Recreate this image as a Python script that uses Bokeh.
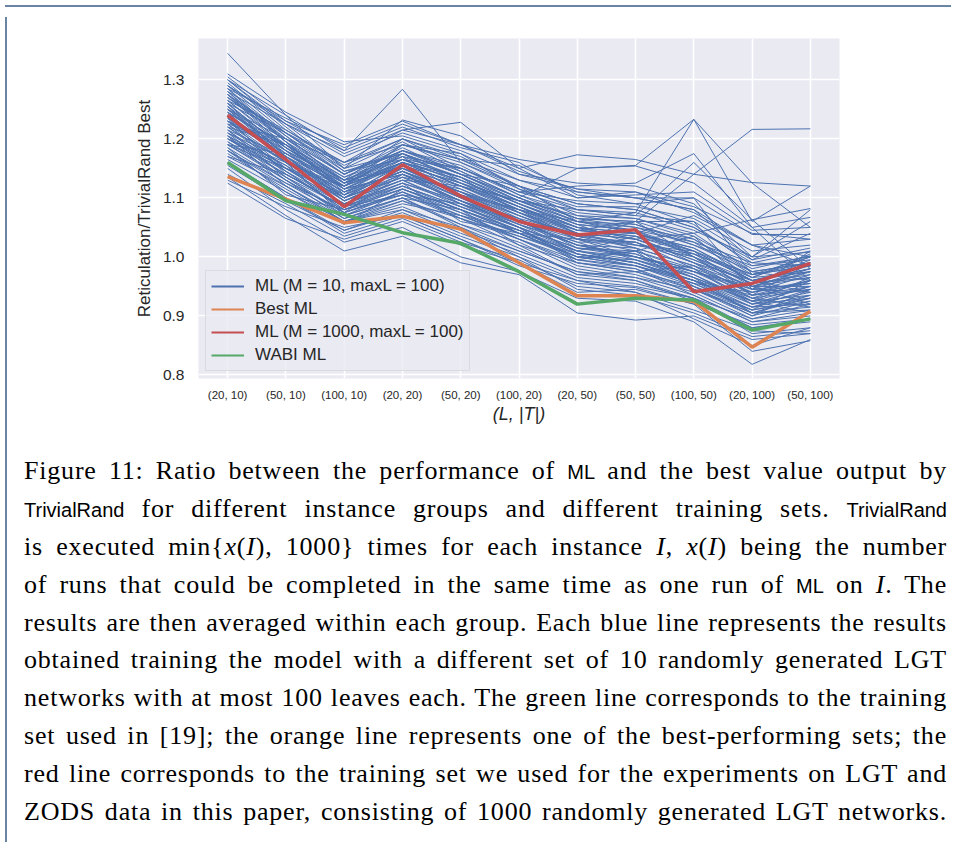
from bokeh.plotting import figure
from bokeh.models import FactorRange, Range1d, FixedTicker, ColumnDataSource, Div, Legend, LegendItem
from bokeh.layouts import column, row
from bokeh.embed import file_html
from bokeh.resources import INLINE

cats = ["(20, 10)", "(50, 10)", "(100, 10)", "(20, 20)", "(50, 20)", "(100, 20)",
        "(20, 50)", "(50, 50)", "(100, 50)", "(20, 100)", "(50, 100)"]

best_ml = [1.136, 1.098, 1.058, 1.069, 1.047, 0.990, 0.934, 0.934, 0.925, 0.847, 0.908]
ml_1000 = [1.240, 1.165, 1.085, 1.156, 1.103, 1.060, 1.037, 1.046, 0.941, 0.955, 0.989]
wabi_ml = [1.160, 1.095, 1.072, 1.041, 1.023, 0.975, 0.920, 0.930, 0.927, 0.876, 0.895]

y_ticks = [0.8, 0.9, 1.0, 1.1, 1.2, 1.3]

blue_runs = [
    [1.345, 1.240, 1.150, 1.175, 1.130, 1.090, 1.050, 1.040, 1.010, 0.960, 0.980],
    [1.310, 1.245, 1.195, 1.205, 1.175, 1.130, 1.110, 1.100, 1.080, 1.020, 1.000],
    [1.305, 1.230, 1.190, 1.230, 1.190, 1.150, 1.173, 1.165, 1.140, 1.126, 1.120],
    [1.300, 1.225, 1.180, 1.284, 1.160, 1.120, 1.090, 1.080, 1.050, 0.990, 1.010],
    [1.270, 1.200, 1.160, 1.215, 1.228, 1.150, 1.100, 1.110, 1.085, 1.040, 1.030],
    [1.230, 1.170, 1.120, 1.180, 1.140, 1.100, 1.150, 1.155, 1.233, 1.060, 1.120],
    [1.250, 1.190, 1.110, 1.160, 1.120, 1.080, 1.060, 1.075, 1.233, 1.125, 1.050],
    [1.200, 1.150, 1.100, 1.140, 1.090, 1.040, 1.030, 1.060, 1.140, 1.216, 1.217],
    [1.260, 1.180, 1.130, 1.170, 1.150, 1.110, 1.120, 1.125, 1.175, 1.050, 0.960],
    [1.125, 1.065, 1.030, 1.060, 1.020, 0.990, 0.960, 0.950, 0.930, 0.880, 0.890],
    [1.135, 1.070, 1.010, 1.035, 0.990, 0.970, 0.905, 0.893, 0.900, 0.860, 0.870],
    [1.150, 1.080, 1.025, 1.050, 1.000, 0.975, 0.930, 0.925, 0.890, 0.818, 0.860],
    [1.160, 1.100, 1.040, 1.070, 1.030, 0.990, 0.940, 0.945, 0.920, 0.840, 0.858],
    [1.180, 1.120, 1.060, 1.080, 1.050, 1.000, 0.960, 0.940, 0.895, 0.850, 0.880],
    [1.290, 1.210, 1.160, 1.200, 1.165, 1.120, 1.080, 1.070, 1.160, 1.063, 1.082],
    [1.285, 1.235, 1.185, 1.225, 1.190, 1.165, 1.150, 1.154, 1.125, 1.050, 1.067],
    [1.275, 1.210, 1.150, 1.232, 1.205, 1.140, 1.115, 1.100, 1.100, 1.038, 1.038],
    [1.170, 1.140, 1.090, 1.125, 1.060, 1.040, 1.000, 0.985, 0.960, 0.905, 0.935],
    [1.245, 1.160, 1.070, 1.100, 1.080, 1.020, 0.970, 0.975, 0.985, 0.930, 0.915],
    [1.285, 1.195, 1.115, 1.140, 1.095, 1.050, 0.995, 1.010, 0.945, 0.910, 0.960],
    [1.190, 1.175, 1.125, 1.160, 1.135, 1.075, 1.030, 1.000, 0.975, 0.950, 0.980],
    [1.230, 1.150, 1.105, 1.175, 1.125, 1.095, 1.055, 1.020, 1.010, 0.935, 0.950],
    [1.205, 1.120, 1.060, 1.090, 1.070, 1.045, 1.010, 1.035, 0.990, 0.960, 0.940],
    [1.265, 1.185, 1.130, 1.150, 1.110, 1.065, 1.040, 1.015, 0.950, 0.915, 0.945],
    [1.225, 1.200, 1.140, 1.185, 1.140, 1.100, 1.065, 1.050, 1.030, 0.975, 0.990],
    [1.180, 1.110, 1.055, 1.115, 1.075, 1.030, 0.985, 0.970, 0.940, 0.895, 0.920],
    [1.255, 1.170, 1.095, 1.130, 1.120, 1.085, 1.045, 1.060, 1.000, 0.945, 0.975],
    [1.300, 1.220, 1.145, 1.165, 1.150, 1.110, 1.080, 1.075, 1.045, 1.000, 1.008],
    [1.215, 1.135, 1.085, 1.105, 1.090, 1.060, 1.020, 1.005, 0.970, 0.925, 0.905],
    [1.240, 1.165, 1.110, 1.145, 1.100, 1.055, 1.025, 0.995, 0.965, 0.905, 0.930],
    [1.200, 1.145, 1.080, 1.120, 1.085, 1.050, 0.990, 0.980, 0.935, 0.890, 0.900],
    [1.275, 1.205, 1.125, 1.190, 1.160, 1.115, 1.070, 1.055, 1.020, 0.985, 0.995],
    [1.160, 1.100, 1.045, 1.080, 1.040, 1.005, 0.965, 0.955, 0.930, 0.870, 0.880],
    [1.235, 1.180, 1.100, 1.135, 1.115, 1.070, 1.035, 1.040, 1.015, 0.965, 1.000],
    [1.210, 1.155, 1.075, 1.110, 1.065, 1.035, 1.005, 0.990, 0.955, 0.940, 0.960],
    [1.290, 1.225, 1.150, 1.195, 1.145, 1.100, 1.060, 1.045, 1.025, 0.990, 0.985],
    [1.195, 1.130, 1.065, 1.095, 1.055, 1.025, 0.980, 0.965, 0.945, 0.900, 0.925],
    [1.250, 1.175, 1.120, 1.160, 1.130, 1.090, 1.050, 1.030, 0.995, 0.955, 0.970],
    [1.220, 1.190, 1.135, 1.170, 1.105, 1.080, 1.030, 1.025, 0.980, 0.920, 0.950],
    [1.270, 1.195, 1.105, 1.155, 1.125, 1.085, 1.040, 1.020, 1.005, 0.970, 0.985],
    [1.185, 1.125, 1.070, 1.100, 1.050, 1.010, 0.975, 0.960, 0.925, 0.880, 0.895],
    [1.260, 1.210, 1.140, 1.180, 1.155, 1.105, 1.075, 1.065, 1.035, 0.980, 1.002],
    [1.230, 1.160, 1.095, 1.140, 1.095, 1.065, 1.015, 1.010, 0.980, 0.945, 0.955],
    [1.295, 1.215, 1.155, 1.200, 1.170, 1.120, 1.090, 1.080, 1.050, 0.995, 1.015],
    [1.175, 1.115, 1.060, 1.095, 1.065, 1.020, 0.990, 0.975, 0.950, 0.910, 0.930],
    [1.245, 1.185, 1.125, 1.150, 1.120, 1.075, 1.045, 1.035, 1.010, 0.960, 0.975],
    [1.205, 1.150, 1.090, 1.130, 1.085, 1.045, 1.000, 0.995, 0.960, 0.920, 0.940],
    [1.280, 1.200, 1.130, 1.175, 1.140, 1.095, 1.060, 1.050, 1.020, 0.975, 0.990],
    [1.225, 1.145, 1.080, 1.115, 1.080, 1.040, 1.010, 0.990, 0.960, 0.915, 0.920],
    [1.265, 1.190, 1.115, 1.165, 1.135, 1.090, 1.055, 1.045, 1.000, 0.960, 0.980],
    [1.190, 1.135, 1.075, 1.105, 1.070, 1.030, 0.995, 0.980, 0.945, 0.905, 0.910],
    [1.255, 1.165, 1.100, 1.150, 1.110, 1.070, 1.035, 1.015, 0.985, 0.950, 0.965],
    [1.215, 1.170, 1.110, 1.145, 1.100, 1.060, 1.025, 1.025, 0.990, 0.935, 0.960],
    [1.235, 1.140, 1.085, 1.125, 1.090, 1.055, 1.020, 1.000, 0.975, 0.930, 0.945],
    [1.200, 1.160, 1.100, 1.135, 1.095, 1.050, 1.015, 1.005, 0.965, 0.925, 0.935],
    [1.275, 1.185, 1.120, 1.160, 1.130, 1.085, 1.050, 1.040, 1.005, 0.965, 0.975],
    [1.240, 1.175, 1.115, 1.155, 1.115, 1.075, 1.040, 1.030, 0.995, 0.955, 0.965],
    [1.250, 1.200, 1.140, 1.190, 1.165, 1.130, 1.100, 1.105, 1.110, 1.045, 1.050],
    [1.280, 1.225, 1.170, 1.210, 1.180, 1.140, 1.125, 1.120, 1.090, 1.000, 1.080],
    [1.230, 1.190, 1.130, 1.200, 1.150, 1.110, 1.095, 1.090, 1.100, 0.970, 1.000],
    [1.210, 1.165, 1.100, 1.160, 1.120, 1.095, 1.080, 1.070, 1.060, 1.000, 1.060],
    [1.190, 1.150, 1.120, 1.175, 1.140, 1.120, 1.060, 1.040, 1.070, 1.020, 0.985],
    [1.300, 1.240, 1.180, 1.220, 1.185, 1.160, 1.105, 1.090, 1.055, 0.985, 1.000],
    [1.260, 1.170, 1.105, 1.145, 1.110, 1.080, 1.050, 1.030, 1.040, 1.063, 0.980],
    [1.140, 1.090, 1.035, 1.065, 1.025, 0.995, 0.950, 0.940, 0.910, 0.875, 0.870],
    [1.155, 1.095, 1.045, 1.075, 1.035, 1.000, 0.945, 0.935, 0.905, 0.865, 0.875],
    [1.130, 1.085, 1.050, 1.070, 1.030, 0.985, 0.955, 0.948, 0.920, 0.885, 0.895],
    [1.220, 1.160, 1.120, 1.190, 1.165, 1.155, 1.110, 1.100, 1.080, 0.995, 1.040],
    [1.185, 1.105, 1.080, 1.115, 1.080, 1.040, 1.000, 1.010, 1.035, 0.950, 0.920],
    [1.275, 1.195, 1.135, 1.180, 1.145, 1.100, 1.065, 1.060, 1.060, 0.945, 1.010],
    [1.245, 1.180, 1.125, 1.165, 1.135, 1.095, 1.070, 1.065, 1.040, 0.975, 0.960],
    [1.265, 1.215, 1.160, 1.190, 1.175, 1.115, 1.085, 1.085, 1.065, 1.010, 1.020],
    [1.205, 1.130, 1.075, 1.140, 1.100, 1.065, 1.005, 0.985, 0.950, 0.900, 0.945],
    [1.170, 1.120, 1.065, 1.100, 1.055, 1.015, 0.970, 0.960, 0.930, 0.895, 0.910],
    [1.290, 1.230, 1.175, 1.215, 1.190, 1.145, 1.115, 1.110, 1.075, 1.020, 1.030],
    [1.220, 1.150, 1.090, 1.125, 1.095, 1.055, 1.010, 1.000, 0.975, 0.940, 0.955],
    [1.195, 1.140, 1.085, 1.120, 1.080, 1.045, 1.005, 0.990, 0.960, 0.925, 0.965],
    [1.240, 1.170, 1.100, 1.150, 1.105, 1.070, 1.030, 1.020, 1.000, 0.935, 0.990],
    [1.260, 1.180, 1.115, 1.140, 1.110, 1.060, 1.020, 1.000, 0.980, 0.925, 0.950],
    [1.210, 1.135, 1.070, 1.110, 1.075, 1.040, 0.995, 0.985, 0.955, 0.910, 0.925],
    [1.285, 1.205, 1.140, 1.180, 1.150, 1.105, 1.065, 1.060, 1.030, 0.970, 0.985],
    [1.180, 1.125, 1.080, 1.105, 1.065, 1.030, 0.990, 0.975, 0.945, 0.905, 0.915],
    [1.230, 1.175, 1.115, 1.160, 1.120, 1.080, 1.045, 1.035, 1.005, 0.950, 0.975],
    [1.250, 1.165, 1.105, 1.145, 1.105, 1.060, 1.030, 1.010, 0.975, 0.945, 0.940],
    [1.205, 1.155, 1.095, 1.130, 1.090, 1.050, 1.015, 1.000, 0.965, 0.930, 0.960],
    [1.270, 1.210, 1.145, 1.175, 1.140, 1.095, 1.060, 1.055, 1.025, 0.965, 1.005],
    [1.165, 1.110, 1.060, 1.085, 1.045, 1.010, 0.975, 0.965, 0.935, 0.890, 0.905],
    [1.225, 1.160, 1.095, 1.135, 1.095, 1.060, 1.020, 1.015, 0.985, 0.940, 0.970],
    [1.245, 1.190, 1.130, 1.165, 1.125, 1.085, 1.045, 1.040, 1.015, 0.960, 0.985],
    [1.215, 1.145, 1.090, 1.120, 1.085, 1.050, 1.010, 0.995, 0.970, 0.920, 0.930],
    [1.280, 1.195, 1.125, 1.170, 1.135, 1.090, 1.055, 1.045, 1.010, 0.970, 0.990],
    [1.190, 1.130, 1.075, 1.110, 1.070, 1.035, 1.000, 0.985, 0.955, 0.915, 0.935],
    [1.235, 1.165, 1.110, 1.145, 1.110, 1.075, 1.035, 1.025, 0.990, 0.950, 0.950],
    [1.255, 1.185, 1.120, 1.155, 1.125, 1.080, 1.040, 1.030, 1.000, 0.955, 0.995],
    [1.200, 1.140, 1.085, 1.115, 1.080, 1.045, 1.005, 0.990, 0.960, 0.935, 0.945],
]

legend_labels = ["ML (M = 10, maxL = 100)", "Best ML", "ML (M = 1000, maxL = 100)", "WABI ML"]

BLUE, ORANGE, RED, GREEN = "#4C72B0", "#DD8452", "#C44E52", "#55A868"
TXT = "#262626"
SANS = "Liberation Sans"

p = figure(x_range=FactorRange(*cats, range_padding=0), y_range=Range1d(0.794, 1.370),
           width=936, height=432, output_backend="svg", toolbar_location=None,
           min_border_left=186, min_border_right=109, min_border_top=26, min_border_bottom=66)
p.background_fill_color = "#EAEAF2"
p.border_fill_color = "white"
p.outline_line_color = None

for g in (p.xgrid, p.ygrid):
    g.grid_line_color = "white"
    g.grid_line_width = 1.6
p.yaxis.ticker = FixedTicker(ticks=y_ticks)
p.yaxis.major_label_overrides = {t: f"{t:.1f}" for t in y_ticks}

for ax in (p.xaxis, p.yaxis):
    ax.axis_line_color = None
    ax.major_tick_line_color = None
    ax.minor_tick_line_color = None
    ax.major_tick_out = 0
    ax.major_tick_in = 0
    ax.major_label_text_font = SANS
    ax.major_label_text_color = TXT
    ax.axis_label_text_font = SANS
    ax.axis_label_text_color = TXT
    ax.axis_label_text_font_size = "17px"

p.yaxis.major_label_text_font_size = "15.5px"
p.yaxis.major_label_standoff = 14
p.yaxis.axis_label = "Reticulation/TrivialRand Best"
p.yaxis.axis_label_text_font_style = "normal"
p.yaxis.axis_label_standoff = 6

p.xaxis.major_label_text_font_size = "11.5px"
p.xaxis.major_label_standoff = 10
p.xaxis.axis_label = "(L, |T|)"
p.xaxis.axis_label_text_font_size = "18px"
p.xaxis.axis_label_text_font_style = "italic"
p.xaxis.axis_label_standoff = 0

src = ColumnDataSource(dict(xs=[cats] * len(blue_runs), ys=blue_runs))
p.multi_line("xs", "ys", source=src, line_color=BLUE, line_width=1)
p.line(cats, best_ml, line_color=ORANGE, line_width=3.5)
p.line(cats, ml_1000, line_color=RED, line_width=3.5)
p.line(cats, wabi_ml, line_color=GREEN, line_width=3.5)

# legend handles: renderers placed far below the visible range, carrying the legend line style
hidden_y = [-10.0, -10.0]
handles = [p.line(cats[:2], hidden_y, line_color=c, line_width=2) for c in (BLUE, ORANGE, RED, GREEN)]
legend = Legend(items=[LegendItem(label=l, renderers=[h]) for l, h in zip(legend_labels, handles)],
                location="bottom_left", margin=7, padding=5, spacing=3,
                label_height=20, glyph_height=20, glyph_width=33, label_standoff=11,
                label_text_font=SANS, label_text_font_size="17px", label_text_color=TXT,
                background_fill_color="#EAEAF2", background_fill_alpha=0.8,
                border_line_color="#CCCCCC", border_line_width=1)
p.add_layout(legend)

sans = "font-family:'Liberation Sans',sans-serif;font-size:20px;letter-spacing:0;"
def sf(t):
    return f"<span style=\"{sans}\">{t}</span>"

caption_lines = [
    f"Figure 11: Ratio between the performance of {sf('ML')} and the best value output by",
    f"{sf('TrivialRand')} for different instance groups and different training sets. {sf('TrivialRand')}",
    "is executed min{<i>x</i>(<i>I</i>), 1000} times for each instance <i>I</i>, <i>x</i>(<i>I</i>) being the number",
    f"of runs that could be completed in the same time as one run of {sf('ML')} on <i>I</i>. The",
    "results are then averaged within each group. Each blue line represents the results",
    "obtained training the model with a different set of 10 randomly generated LGT",
    "networks with at most 100 leaves each. The green line corresponds to the training",
    "set used in [19]; the orange line represents one of the best-performing sets; the",
    "red line corresponds to the training set we used for the experiments on LGT and",
    "ZODS data in this paper, consisting of 1000 randomly generated LGT networks.",
]
line_style = ("text-align:justify;text-align-last:justify;height:37.9px;line-height:37.9px;"
              "width:923px;margin:0;padding:0;")
html = ("<div style=\"margin-left:7px;padding-top:3px;font-family:'Liberation Serif',serif;"
        "font-size:26px;letter-spacing:0.8px;color:#000;\">"
        + "".join(f"<div style=\"{line_style}\">{t}</div>" for t in caption_lines)
        + "</div>")
caption = Div(text=html, width=936, height=393)

border_col = "#6A84A3"
top_bar = Div(text="", width=946, height=2, styles={"background-color": border_col})
left_bar = Div(text="", width=2, height=825, styles={"background-color": border_col})

layout = column(top_bar, row(left_bar, column(p, caption)))

open("out.html", "w").write(file_html(layout, INLINE))
